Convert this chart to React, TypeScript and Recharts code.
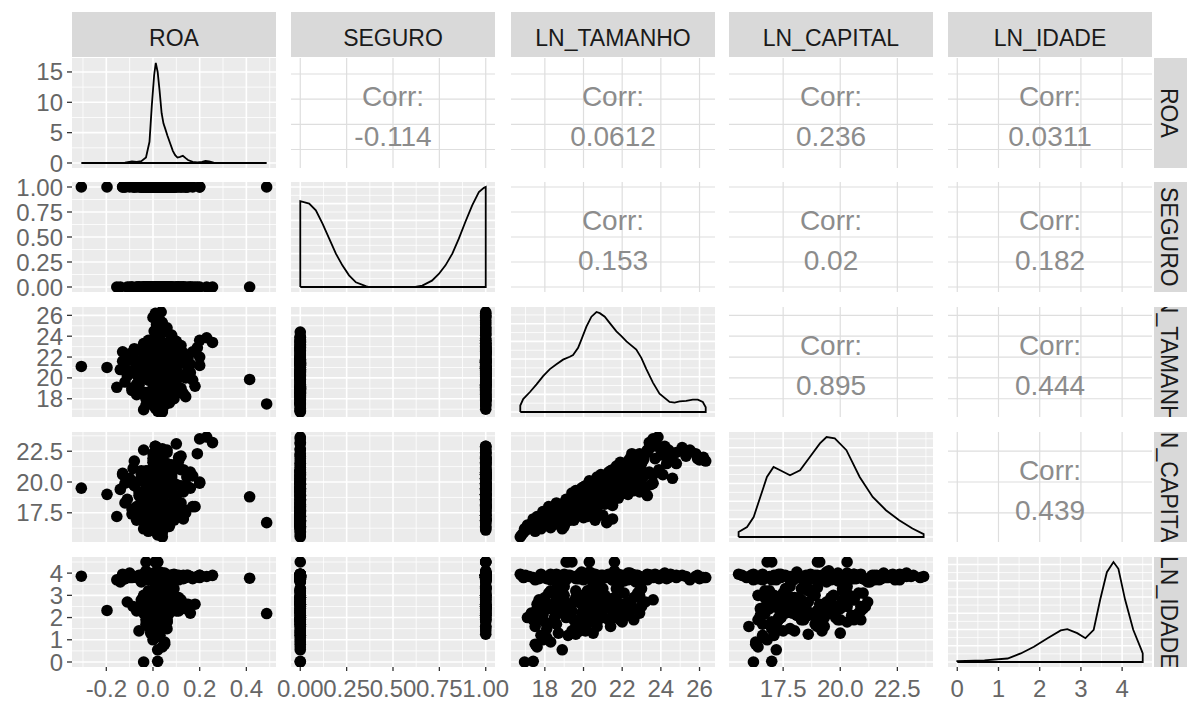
import { ComposedChart, XAxis, YAxis, Scatter, Line, ReferenceLine } from "recharts";

const FONT = '"Liberation Sans", Arial, Helvetica, sans-serif';

const VARS = ["ROA", "SEGURO", "LN_TAMANHO", "LN_CAPITAL", "LN_IDADE"];

// observations (one entry per firm, same order in every array)
const ROA = [
  -0.307, -0.197, 0.414, 0.487, -0.155, -0.14, -0.13, -0.1, -0.11, 0.23,
  0.255, 0.2, 0.18, 0.17, 0.145, 0.2, 0.16, 0.13, 0.12, 0.01,
  0.02, 0.0, 0.03, 0.015, 0.025, 0.005, 0.035, 0.01, 0.06, 0.08,
  0.05, 0.02, 0.03, 0.04, 0.05, 0.02, 0.02, 0.04, -0.04, 0.02,
  0.04, 0.04, 0.01, 0.03, -0.02, 0.05, 0.0, 0.07, 0.02, -0.03,
  0.01, 0.04, 0.02, 0.0, 0.06, -0.05, 0.03, 0.01, 0.09, 0.02,
  -0.01, 0.04, 0.11, -0.07, 0.01, 0.03, 0.0, 0.05, 0.02, -0.02,
  0.07, 0.01, -0.04, 0.04, 0.08, 0.02, -0.06, 0.1, 0.01, 0.02,
  0.0, 0.03, -0.01, 0.04, 0.01, 0.02, 0.05, 0.0, 0.03, 0.06,
  -0.03, 0.02, 0.08, 0.01, 0.13, -0.08, 0.03, 0.04, 0.01, 0.1,
  -0.02, 0.02, 0.01, 0.03, 0.0, 0.05, 0.02, -0.01, 0.04, 0.01,
  0.07, 0.02, -0.04, 0.09, 0.03, 0.01, 0.06, -0.06, 0.02, 0.01,
  0.03, 0.0, 0.05, 0.02, -0.02, 0.04, 0.01, 0.08, 0.02, -0.05,
  0.11, 0.03, 0.01, 0.02, 0.04, 0.0, 0.06, 0.01, 0.03, -0.03,
  0.03, 0.05, 0.0, -0.02, 0.06, 0.02, -0.09, 0.12, 0.15, -0.085,
  0.14, -0.12, -0.13, 0.19, 0.0, 0.03, -0.03, 0.05, 0.01, 0.08,
  -0.05, 0.02, 0.04, 0.06, -0.02, 0.03, 0.01, 0.07, -0.01, 0.02,
  0.05, 0.0, 0.09, 0.12, 0.15, -0.07, 0.04, 0.02, 0.06, 0.01,
  0.03, -0.04, 0.07, 0.1, 0.02, 0.05, 0.0, 0.08, -0.02, 0.04,
  0.01, 0.06, 0.03, -0.03, 0.01, 0.04, -0.02, 0.06, 0.02, 0.09,
  -0.04, 0.03, 0.0, 0.05, 0.02, 0.07, -0.01, 0.04, 0.01, 0.11,
  0.03, 0.06, 0.0, 0.14, -0.06, 0.08, 0.02, 0.05, -0.03, 0.16,
  0.01, 0.03, 0.02, 0.04, 0.01, 0.0, 0.1, -0.08, 0.12, 0.05,
  -0.05, 0.07, 0.03, 0.02, 0.13, -0.1, 0.0, 0.04, 0.01, 0.03,
  0.05, 0.02, -0.01, 0.02, 0.06, -0.04, 0.03, 0.01, 0.08, -0.02,
  0.04, 0.0, 0.05, 0.02, -0.05, 0.07, 0.01, 0.03, 0.11, -0.06,
  0.14, 0.09, 0.02, 0.04, 0.0, 0.06, -0.03, 0.01, 0.05, 0.03,
  -0.01, 0.07, 0.02, 0.03, 0.01, 0.05, -0.02, 0.02, 0.08, 0.0,
  0.04, 0.1, 0.06, 0.02, -0.04, 0.03, 0.13, -0.07, 0.17, -0.12,
  0.2, -0.09, 0.01,
];
const SEGURO = [
  1, 1, 0, 1, 0, 0, 1, 1, 0, 0,
  0, 0, 0, 1, 1, 1, 0, 0, 1, 1,
  1, 1, 1, 1, 1, 1, 1, 1, 0, 0,
  1, 1, 0, 0, 0, 1, 0, 0, 0, 0,
  0, 0, 0, 1, 0, 1, 0, 0, 1, 0,
  0, 1, 0, 1, 0, 0, 1, 0, 1, 0,
  1, 0, 0, 1, 0, 1, 0, 1, 0, 1,
  0, 1, 0, 1, 0, 1, 0, 1, 1, 0,
  1, 0, 1, 0, 1, 0, 1, 0, 1, 0,
  1, 0, 1, 0, 0, 1, 0, 1, 0, 1,
  0, 1, 1, 0, 1, 0, 1, 0, 1, 0,
  1, 0, 1, 0, 1, 0, 1, 0, 1, 1,
  0, 1, 0, 1, 0, 1, 0, 1, 0, 1,
  0, 1, 0, 1, 0, 1, 0, 1, 0, 1,
  0, 0, 1, 0, 0, 1, 0, 1, 0, 1,
  1, 1, 1, 0, 0, 1, 0, 1, 0, 0,
  1, 0, 1, 0, 1, 0, 1, 0, 1, 0,
  1, 0, 1, 0, 1, 0, 0, 1, 0, 1,
  0, 1, 1, 0, 0, 1, 0, 1, 0, 1,
  0, 1, 0, 1, 0, 1, 0, 1, 0, 1,
  0, 1, 0, 1, 0, 1, 0, 1, 0, 1,
  0, 1, 0, 1, 0, 0, 1, 0, 1, 0,
  1, 0, 1, 1, 1, 0, 0, 1, 0, 1,
  1, 0, 1, 0, 1, 0, 1, 0, 0, 0,
  0, 1, 0, 0, 1, 0, 1, 0, 1, 0,
  1, 0, 1, 0, 1, 0, 1, 0, 0, 1,
  0, 1, 0, 1, 0, 1, 0, 1, 0, 0,
  1, 0, 1, 0, 1, 0, 1, 0, 1, 0,
  1, 0, 1, 0, 1, 0, 0, 0, 0, 1,
  1, 0, 1,
];
const LN_TAMANHO = [
  21.1, 21.0, 19.85, 17.5, 19.1, 20.8, 22.5, 22.3, 20.2, 23.85,
  23.4, 23.6, 19.2, 19.8, 21.8, 22.0, 20.5, 18.5, 21.5, 26.2,
  26.0, 25.8, 25.5, 25.1, 24.8, 24.5, 26.32, 24.2, 24.4, 23.9,
  24.6, 23.3, 20.6, 21.2, 21.5, 21.0, 16.8, 16.9, 16.95, 17.4,
  17.6, 16.73, 17.2, 17.3, 17.5, 17.8, 17.9, 17.6, 17.7, 18.0,
  17.1, 17.0, 18.2, 18.4, 18.5, 18.7, 18.3, 18.8, 18.6, 18.9,
  18.1, 18.6, 18.9, 18.4, 19.1, 19.3, 19.5, 19.7, 19.2, 19.8,
  19.6, 19.4, 19.9, 19.0, 19.5, 19.2, 19.8, 19.3, 20.1, 20.3,
  20.5, 20.7, 20.9, 20.2, 20.6, 20.8, 20.4, 20.0, 20.9, 20.6,
  20.3, 20.5, 20.7, 20.1, 20.2, 20.8, 20.4, 20.9, 20.6, 20.3,
  20.0, 20.7, 21.1, 21.3, 21.5, 21.7, 21.9, 21.2, 21.4, 21.6,
  21.8, 21.0, 21.3, 21.5, 21.7, 21.9, 21.1, 21.4, 21.6, 22.1,
  22.3, 22.5, 22.7, 22.9, 22.2, 22.4, 22.6, 22.8, 22.0, 22.6,
  22.3, 22.5, 22.9, 23.1, 23.4, 23.6, 23.2, 23.8, 23.5, 23.0,
  17.8, 18.3, 19.6, 21.4, 21.9, 19.1, 19.0, 20.1, 21.9, 22.2,
  18.2, 20.9, 21.6, 22.9, 17.9, 18.2, 18.6, 18.9, 19.3, 19.6,
  19.9, 20.2, 20.5, 20.8, 21.1, 21.4, 21.7, 22.0, 22.3, 22.6,
  22.9, 23.2, 18.0, 19.0, 20.6, 19.4, 17.7, 18.5, 19.9, 20.9,
  21.8, 20.0, 18.7, 21.2, 19.7, 20.4, 21.6, 22.4, 18.3, 19.1,
  22.8, 17.9, 20.7, 21.5, 17.5, 17.9, 18.3, 18.8, 19.2, 19.6,
  20.0, 20.3, 20.6, 20.9, 21.2, 21.5, 21.8, 22.1, 22.4, 22.7,
  23.0, 23.3, 23.7, 20.0, 21.0, 22.1, 19.4, 18.1, 21.6, 21.3,
  22.7, 24.0, 24.3, 25.3, 25.9, 19.0, 20.8, 22.8, 23.1, 17.4,
  20.5, 19.9, 21.9, 18.5, 22.4, 21.7, 23.4, 22.6, 18.1, 19.4,
  17.5, 20.1, 18.7, 17.6, 18.0, 18.4, 18.8, 19.1, 19.5, 19.8,
  20.2, 20.5, 20.9, 21.3, 21.7, 22.1, 22.5, 22.9, 18.6, 19.3,
  20.4, 21.0, 17.9, 19.6, 21.8, 20.0, 17.4, 22.6, 18.2, 20.3,
  21.5, 19.0, 23.0, 21.5, 22.3, 22.9, 23.6, 20.1, 24.1, 18.9,
  17.8, 23.5, 24.8, 22.0, 23.3, 21.0, 21.4, 20.3, 22.5, 19.6,
  21.2, 18.8, 19.9,
];
const LN_CAPITAL = [
  19.5, 19.0, 18.8, 16.7, 17.2, 19.4, 20.6, 20.3, 18.6, 23.65,
  23.2, 23.5, 18.0, 18.0, 20.4, 20.0, 19.5, 17.0, 21.0, 22.0,
  21.8, 22.3, 22.6, 22.8, 22.4, 21.9, 21.7, 22.9, 22.6, 21.0,
  20.3, 18.9, 16.9, 16.7, 17.0, 17.3, 15.7, 15.9, 16.2, 17.0,
  16.4, 15.55, 16.2, 16.6, 16.0, 17.1, 16.8, 17.2, 16.4, 17.4,
  16.5, 16.1, 16.9, 17.3, 17.0, 17.6, 17.8, 16.8, 18.1, 17.2,
  17.0, 18.3, 17.5, 16.9, 18.0, 17.6, 18.4, 19.0, 17.1, 18.7,
  17.9, 19.1, 18.2, 17.8, 16.9, 17.0, 19.2, 18.5, 19.3, 19.6,
  19.8, 19.1, 20.2, 18.8, 19.4, 18.3, 19.9, 18.9, 19.5, 18.0,
  19.0, 20.0, 20.4, 17.7, 19.2, 19.7, 18.6, 20.6, 17.4, 18.4,
  19.6, 19.0, 20.0, 19.4, 20.5, 19.8, 21.0, 18.9, 19.6, 20.3,
  20.3, 18.5, 20.6, 19.0, 21.3, 19.9, 19.7, 20.1, 18.7, 20.8,
  21.2, 21.6, 20.5, 20.8, 19.8, 21.9, 19.6, 21.4, 20.3, 20.9,
  21.7, 22.3, 20.1, 21.8, 22.7, 20.6, 20.6, 22.9, 19.8, 20.9,
  16.6, 16.3, 18.6, 20.9, 21.3, 16.8, 17.4, 19.7, 20.6, 21.1,
  17.7, 19.9, 20.7, 22.3, 16.5, 17.5, 16.6, 18.0, 16.9, 17.6,
  18.5, 17.2, 18.8, 19.3, 18.2, 19.2, 20.1, 19.1, 20.5, 20.0,
  20.4, 19.5, 16.9, 18.3, 19.6, 17.7, 16.9, 17.4, 17.8, 19.0,
  18.7, 18.9, 17.9, 19.8, 18.1, 18.3, 20.4, 19.4, 16.7, 18.6,
  21.0, 17.3, 17.9, 19.3, 16.6, 16.9, 17.3, 17.9, 18.2, 18.8,
  18.5, 19.4, 19.9, 19.2, 20.4, 20.0, 20.9, 21.4, 20.7, 22.0,
  21.5, 22.4, 21.9, 19.5, 18.9, 20.2, 17.3, 16.5, 19.5, 20.8,
  21.2, 22.2, 21.5, 22.1, 21.9, 16.6, 18.6, 21.7, 22.1, 16.3,
  19.0, 19.5, 21.6, 17.7, 21.0, 20.2, 20.8, 19.3, 16.6, 17.5,
  16.3, 18.0, 17.1, 16.5, 17.0, 16.8, 17.6, 17.4, 18.2, 18.9,
  18.6, 19.5, 20.3, 20.0, 20.6, 20.8, 19.8, 19.6, 17.2, 18.0,
  17.5, 18.4, 17.6, 19.3, 20.9, 17.1, 16.4, 20.6, 18.0, 20.1,
  18.1, 16.4, 20.2, 18.3, 19.0, 19.2, 19.9, 17.4, 20.6, 16.2,
  16.2, 23.1, 21.5, 21.5, 22.6, 20.5, 19.4, 18.0, 20.5, 18.3,
  19.9, 17.8, 18.1,
];
const LN_IDADE = [
  3.86, 2.32, 3.77, 2.18, 3.7, 3.6, 3.95, 4.0, 2.7, 3.85,
  3.9, 3.8, 2.6, 3.75, 3.9, 3.9, 2.2, 3.85, 2.4, 3.8,
  3.75, 3.85, 3.7, 3.9, 3.8, 3.95, 3.8, 4.0, 3.8, 3.75,
  3.9, 3.85, 3.2, 2.9, 3.7, 2.0, 3.9, 3.8, 0.0, 0.03,
  0.68, 3.95, 3.85, 2.2, 1.6, 3.9, 1.0, 2.6, 3.75, 2.9,
  2.0, 3.9, 3.8, 2.4, 1.8, 3.9, 3.7, 2.7, 3.95, 0.55,
  1.5, 3.3, 2.3, 3.8, 3.85, 2.6, 1.9, 3.75, 1.2, 3.95,
  2.9, 4.5, 2.2, 3.4, 3.85, 4.5, 1.4, 3.9, 3.8, 2.5,
  3.9, 1.8, 3.7, 3.0, 2.7, 3.85, 4.0, 2.1, 2.4, 3.75,
  4.5, 1.3, 3.9, 2.8, 3.8, 3.85, 3.3, 2.9, 3.95, 2.3,
  3.7, 1.6, 3.8, 2.6, 3.9, 2.0, 3.75, 3.85, 2.8, 4.5,
  3.4, 2.4, 3.95, 3.7, 3.8, 1.9, 3.0, 3.85, 3.9, 3.8,
  2.7, 3.9, 3.75, 2.2, 3.85, 4.0, 2.9, 3.9, 1.8, 3.8,
  3.7, 3.95, 3.2, 3.8, 3.9, 2.8, 3.75, 3.85, 3.9, 2.5,
  1.2, 0.9, 1.25, 1.9, 3.6, 4.5, 3.8, 3.85, 3.9, 2.5,
  2.4, 3.75, 3.8, 3.85, 2.1, 3.1, 1.7, 2.9, 2.4, 3.2,
  2.6, 1.7, 3.1, 2.0, 2.9, 1.6, 3.3, 2.6, 2.1, 2.4,
  3.0, 2.7, 2.5, 2.8, 2.6, 2.3, 2.8, 2.0, 1.5, 3.35,
  2.2, 3.0, 2.2, 2.5, 2.7, 1.9, 2.9, 2.3, 3.2, 2.1,
  3.1, 1.9, 2.3, 2.5, 3.7, 3.8, 3.95, 3.65, 3.9, 3.8,
  3.75, 4.05, 3.65, 3.9, 3.8, 3.7, 3.95, 3.85, 3.75, 3.9,
  3.8, 3.7, 3.95, 3.8, 3.9, 3.65, 3.85, 3.75, 4.1, 3.85,
  3.6, 3.9, 3.75, 3.85, 3.9, 3.95, 3.7, 3.85, 3.8, 3.8,
  3.6, 3.9, 3.8, 3.85, 3.75, 3.8, 3.9, 3.7, 1.1, 1.4,
  0.8, 1.4, 1.3, 2.4, 1.8, 2.6, 3.3, 2.0, 2.7, 1.7,
  3.2, 2.2, 2.5, 1.9, 2.8, 3.1, 2.5, 2.9, 2.9, 2.4,
  2.6, 3.3, 2.2, 1.6, 2.3, 3.0, 1.9, 1.9, 2.5, 2.8,
  2.1, 3.0, 3.3, 3.8, 3.9, 3.75, 3.85, 3.9, 3.8, 3.7,
  3.95, 3.85, 3.9, 3.7, 3.95, 3.8, 3.9, 3.85, 3.8, 3.75,
  3.9, 3.85, 4.05,
];

// density curves
const ROA_DENS_X = [-0.307, -0.2, -0.12, -0.09, -0.07, -0.05, -0.03, -0.015, -0.005, 0.005, 0.012, 0.02, 0.028, 0.037, 0.045, 0.052, 0.062, 0.073, 0.085, 0.095, 0.105, 0.116, 0.128, 0.14, 0.15, 0.17, 0.19, 0.21, 0.225, 0.24, 0.26, 0.3, 0.41, 0.487];
const ROA_DENS_Y = [0, 0.02, 0.05, 0.25, 0.2, 0.3, 0.9, 3.5, 9.5, 14.5, 16.48, 15.0, 12.0, 8.2, 6.5, 5.7, 4.5, 3.3, 2.0, 1.3, 0.9, 1.0, 1.2, 0.8, 0.5, 0.2, 0.1, 0.2, 0.35, 0.25, 0.05, 0.0, 0.01, 0.0];
const SEG_DENS_X = [0, 0.048, 0.084, 0.12, 0.156, 0.192, 0.227, 0.263, 0.3, 0.353, 0.37, 0.62, 0.658, 0.71, 0.747, 0.783, 0.82, 0.855, 0.89, 0.927, 0.963, 0.99, 1.0];
const SEG_DENS_Y = [1.03, 1.0, 0.92, 0.76, 0.58, 0.4, 0.26, 0.14, 0.056, 0.01, 0, 0, 0.016, 0.076, 0.156, 0.26, 0.4, 0.58, 0.78, 0.98, 1.14, 1.19, 1.2];
const TAM_DENS_X = [16.73, 16.88, 17.23, 17.57, 17.91, 18.26, 18.6, 18.94, 19.29, 19.46, 19.72, 19.89, 20.15, 20.41, 20.67, 20.84, 21.1, 21.36, 21.7, 21.96, 22.22, 22.73, 22.99, 23.25, 23.59, 23.93, 24.45, 24.71, 24.97, 25.31, 25.65, 25.91, 26.17, 26.32];
const TAM_DENS_Y = [0.011, 0.022, 0.034, 0.047, 0.061, 0.073, 0.081, 0.089, 0.094, 0.097, 0.109, 0.123, 0.145, 0.162, 0.17, 0.168, 0.162, 0.151, 0.137, 0.129, 0.12, 0.106, 0.092, 0.073, 0.05, 0.031, 0.017, 0.016, 0.018, 0.019, 0.021, 0.021, 0.017, 0.008];
const CAP_DENS_X = [15.55, 15.92, 16.21, 16.5, 16.79, 17.08, 17.37, 17.8, 18.24, 18.67, 19.11, 19.4, 19.76, 20.27, 20.85, 21.42, 22.0, 22.58, 23.16, 23.65];
const CAP_DENS_Y = [0.014, 0.028, 0.056, 0.112, 0.168, 0.196, 0.187, 0.173, 0.187, 0.224, 0.262, 0.28, 0.276, 0.243, 0.168, 0.112, 0.075, 0.047, 0.024, 0.008];
const IDADE_DENS_X = [0, 0.66, 1.22, 1.54, 1.86, 2.19, 2.51, 2.67, 2.91, 3.11, 3.31, 3.47, 3.63, 3.79, 3.91, 4.07, 4.27, 4.47, 4.5];
const IDADE_DENS_Y = [0.012, 0.021, 0.043, 0.105, 0.188, 0.293, 0.388, 0.405, 0.355, 0.293, 0.396, 0.771, 1.105, 1.23, 1.146, 0.771, 0.396, 0.146, 0.105];

// upper triangle, row by row
const CORR = [-0.114, 0.0612, 0.236, 0.0311, 0.153, 0.02, 0.182, 0.895, 0.444, 0.439];

// tick labels
const ROA_TICKS = [-0.2, 0, 0.2, 0.4];
const SEG_TICKS = [0, 0.25, 0.5, 0.75, 1];
const TAM_TICKS = [18, 20, 22, 24, 26];
const CAP_TICKS = [17.5, 20, 22.5];
const IDADE_TICKS = [0, 1, 2, 3, 4];
const ROA_DENS_TICKS = [0, 5, 10, 15];

type Scale = {
  domain: [number, number];
  major: number[];
  minor: number[];
  fmt: (v: number) => string;
};

const SCALES: Scale[] = [
  { domain: [-0.347, 0.527], major: ROA_TICKS, minor: [-0.3, -0.1, 0.1, 0.3, 0.5], fmt: (v) => v.toFixed(1) },
  { domain: [-0.05, 1.05], major: SEG_TICKS, minor: [0.125, 0.375, 0.625, 0.875], fmt: (v) => v.toFixed(2) },
  { domain: [16.25, 26.8], major: TAM_TICKS, minor: [17, 19, 21, 23, 25], fmt: (v) => String(v) },
  { domain: [15.13, 24.06], major: CAP_TICKS, minor: [16.25, 18.75, 21.25, 23.75], fmt: (v) => v.toFixed(1) },
  { domain: [-0.225, 4.725], major: IDADE_TICKS, minor: [0.5, 1.5, 2.5, 3.5, 4.5], fmt: (v) => String(v) },
];

const DENS_SCALES: Scale[] = [
  { domain: [-0.824, 17.3], major: ROA_DENS_TICKS, minor: [2.5, 7.5, 12.5], fmt: (v) => String(v) },
  { domain: [-0.06, 1.26], major: [0, 0.2, 0.4, 0.6, 0.8, 1.0, 1.2], minor: [0.1, 0.3, 0.5, 0.7, 0.9, 1.1], fmt: String },
  { domain: [-0.0085, 0.1785], major: [0, 0.03, 0.06, 0.09, 0.12, 0.15], minor: [0.015, 0.045, 0.075, 0.105, 0.135, 0.165], fmt: String },
  { domain: [-0.014, 0.294], major: [0, 0.05, 0.1, 0.15, 0.2, 0.25], minor: [0.025, 0.075, 0.125, 0.175, 0.225, 0.275], fmt: String },
  { domain: [-0.0615, 1.2915], major: [0, 0.2, 0.4, 0.6, 0.8, 1.0, 1.2], minor: [0.1, 0.3, 0.5, 0.7, 0.9, 1.1], fmt: String },
];

const COLUMNS = [ROA, SEGURO, LN_TAMANHO, LN_CAPITAL, LN_IDADE];
const DENSITIES = [
  [ROA_DENS_X, ROA_DENS_Y],
  [SEG_DENS_X, SEG_DENS_Y],
  [TAM_DENS_X, TAM_DENS_Y],
  [CAP_DENS_X, CAP_DENS_Y],
  [IDADE_DENS_X, IDADE_DENS_Y],
];

const COL_X = [72, 291, 511, 729, 948];
const ROW_Y = [58, 182, 307, 432, 557];
const PW = 204;
const PH = 110;
const Y_AXIS_W = 72;
const X_AXIS_H = 40;

const tickStyle = { fill: "#666666", fontSize: 24, fontFamily: FONT };
const tickLine = { stroke: "#333333", strokeWidth: 1.3 };

const Dot = (p: any) => <circle cx={p.cx} cy={p.cy} r={5.8} fill="#000000" />;

function densityOutline(i: number) {
  const [xs, ys] = DENSITIES[i];
  const pts = xs.map((x, k) => ({ x, y: ys[k] }));
  const first = xs[0];
  const last = xs[xs.length - 1];
  return [{ x: first, y: 0 }, ...pts, { x: last, y: 0 }, { x: first, y: 0 }];
}

function Panel({ r, c }: { r: number; c: number }) {
  const xs = SCALES[c];
  const ys = r === c ? DENS_SCALES[c] : SCALES[r];
  const showY = c === 0;
  const showX = r === 4;
  const padL = showY ? Y_AXIS_W : 0;
  const padB = showX ? X_AXIS_H : 0;
  const upper = r < c;
  const majorColor = upper ? "#DEDEDE" : "#FFFFFF";

  let points: { x: number; y: number }[] = [];
  if (r > c) {
    points = COLUMNS[c].map((v, i) => ({ x: v, y: COLUMNS[r][i] }));
  }

  return (
    <>
      {!upper && (
        <div
          style={{ position: "absolute", left: COL_X[c], top: ROW_Y[r], width: PW, height: PH, background: "#EBEBEB" }}
        />
      )}
      <div style={{ position: "absolute", left: COL_X[c] - padL, top: ROW_Y[r] }}>
        <ComposedChart width={PW + padL} height={PH + padB} margin={{ top: 0, right: 0, bottom: 0, left: 0 }}>
          <XAxis
            type="number"
            dataKey="x"
            domain={xs.domain}
            ticks={xs.major}
            allowDataOverflow
            hide={!showX}
            height={X_AXIS_H}
            interval={0}
            tickFormatter={xs.fmt}
            tick={tickStyle}
            tickLine={tickLine}
            axisLine={false}
            tickSize={4}
            tickMargin={9}
          />
          <YAxis
            type="number"
            dataKey="y"
            domain={ys.domain}
            ticks={ys.major}
            allowDataOverflow
            hide={!showY}
            width={Y_AXIS_W}
            interval={0}
            tickFormatter={ys.fmt}
            tick={tickStyle}
            tickLine={tickLine}
            axisLine={false}
            tickSize={5}
            tickMargin={4}
          />
          {!upper &&
            xs.minor.map((v) => <ReferenceLine key={"xm" + v} x={v} stroke="#FFFFFF" strokeWidth={0.8} />)}
          {!upper &&
            ys.minor.map((v) => <ReferenceLine key={"ym" + v} y={v} stroke="#FFFFFF" strokeWidth={0.8} />)}
          {xs.major.map((v) => (
            <ReferenceLine key={"xM" + v} x={v} stroke={majorColor} strokeWidth={upper ? 1.2 : 1.6} />
          ))}
          {ys.major.map((v) => (
            <ReferenceLine key={"yM" + v} y={v} stroke={majorColor} strokeWidth={upper ? 1.2 : 1.6} />
          ))}
        </ComposedChart>
      </div>
      {!upper && (
        <div style={{ position: "absolute", left: COL_X[c], top: ROW_Y[r] }}>
          <ComposedChart width={PW} height={PH} margin={{ top: 0, right: 0, bottom: 0, left: 0 }}>
            <XAxis type="number" dataKey="x" domain={xs.domain} allowDataOverflow hide />
            <YAxis type="number" dataKey="y" domain={ys.domain} allowDataOverflow hide />
            {r === c ? (
              <Line
                data={densityOutline(c)}
                dataKey="y"
                type="linear"
                stroke="#000000"
                strokeWidth={1.8}
                dot={false}
                isAnimationActive={false}
              />
            ) : (
              <Scatter data={points} dataKey="y" shape={Dot} isAnimationActive={false} />
            )}
          </ComposedChart>
        </div>
      )}
    </>
  );
}

export default function App() {
  const cells: { r: number; c: number }[] = [];
  for (let r = 0; r < 5; r++) for (let c = 0; c < 5; c++) cells.push({ r, c });

  const corrCells: { r: number; c: number; v: number }[] = [];
  let k = 0;
  for (let r = 0; r < 5; r++)
    for (let c = r + 1; c < 5; c++) corrCells.push({ r, c, v: CORR[k++] });

  const corrText = {
    position: "absolute" as const,
    width: PW,
    height: 32,
    lineHeight: "32px",
    textAlign: "center" as const,
    fontSize: 28,
    color: "#8C8C8C",
  };

  return (
    <div
      style={{
        position: "absolute",
        left: 0,
        top: 0,
        width: 1187,
        height: 703,
        background: "#FFFFFF",
        overflow: "hidden",
        fontFamily: FONT,
      }}
    >
      <style>{".recharts-surface{overflow:visible}"}</style>
      {cells.map(({ r, c }) => (
        <Panel key={r + "-" + c} r={r} c={c} />
      ))}

      {corrCells.map(({ r, c, v }) => (
        <div key={"corr" + r + c}>
          <div style={{ ...corrText, left: COL_X[c], top: ROW_Y[r] + 39 - 16 }}>Corr:</div>
          <div style={{ ...corrText, left: COL_X[c], top: ROW_Y[r] + 79 - 16 }}>{String(v)}</div>
        </div>
      ))}

      {VARS.map((name, c) => (
        <div
          key={"top" + name}
          style={{
            position: "absolute",
            left: COL_X[c],
            top: 12,
            width: PW,
            height: 45,
            paddingTop: 8,
            boxSizing: "border-box",
            background: "#D9D9D9",
            color: "#1A1A1A",
            fontSize: 23,
            display: "flex",
            alignItems: "center",
            justifyContent: "center",
            whiteSpace: "nowrap",
          }}
        >
          {name}
        </div>
      ))}

      {VARS.map((name, r) => (
        <div
          key={"right" + name}
          style={{
            position: "absolute",
            left: 1154,
            top: ROW_Y[r],
            width: 45,
            height: PH,
            background: "#D9D9D9",
            overflow: "hidden",
          }}
        >
          <div
            style={{
              position: "absolute",
              left: 0,
              top: 0,
              width: 28,
              height: PH,
              display: "flex",
              alignItems: "center",
              justifyContent: "center",
            }}
          >
            <span
              style={{
                writingMode: "vertical-rl",
                whiteSpace: "nowrap",
                fontSize: 23,
                color: "#1A1A1A",
              }}
            >
              {name}
            </span>
          </div>
        </div>
      ))}
    </div>
  );
}
